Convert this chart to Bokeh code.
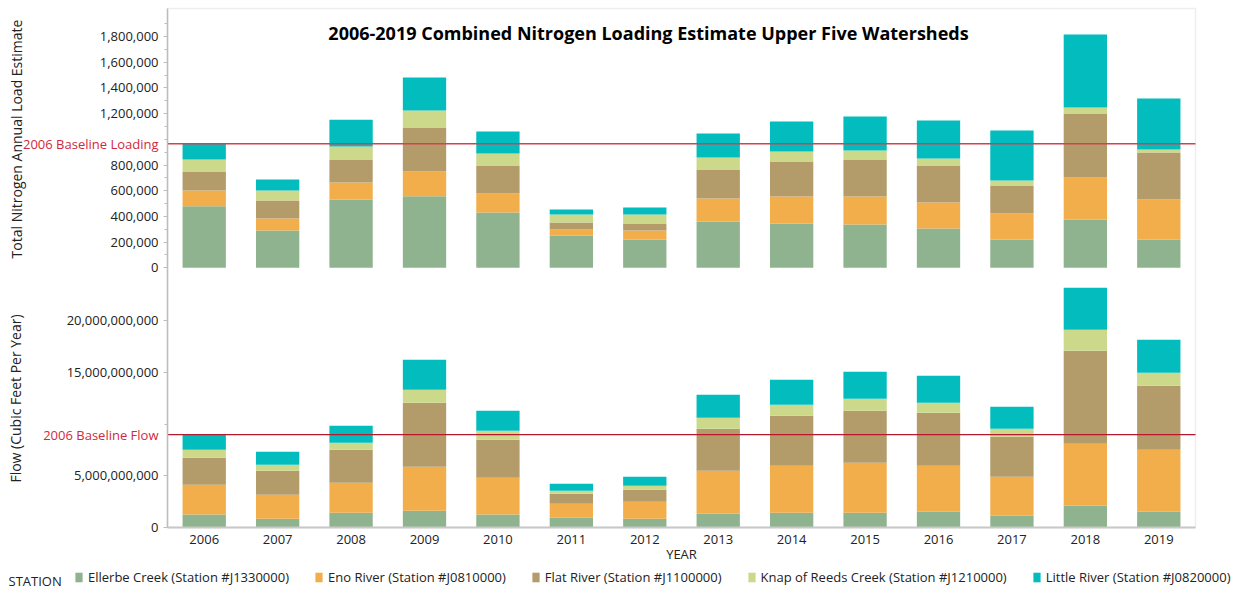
from bokeh.plotting import figure
from bokeh.models import (ColumnDataSource, Range1d, FixedTicker, Label, BoxAnnotation,
                          Legend, LegendItem, NumeralTickFormatter, LinearAxis)
from bokeh.embed import file_html
from bokeh.resources import INLINE

years = list(range(2006, 2020))
stations = ["Ellerbe Creek (Station #J1330000)", "Eno River (Station #J0810000)",
            "Flat River (Station #J1100000)", "Knap of Reeds Creek (Station #J1210000)",
            "Little River (Station #J0820000)"]
keys = ["ellerbe", "eno", "flat", "knap", "little"]
colors = ["#8FB38E", "#F2AE4A", "#B39B6A", "#CCD88A", "#03BCBE"]

# Total nitrogen annual load estimate per station
n_ellerbe = [479000, 290000, 531000, 557000, 430000, 251000, 220000, 360000, 345000, 337000, 306000, 220000, 376000, 220000]
n_eno     = [122000, 94000, 132000, 192000, 148000, 47000, 70000, 179000, 210000, 218000, 202000, 203000, 327000, 311000]
n_flat    = [148000, 140000, 179000, 343000, 218000, 55000, 55000, 226000, 272000, 288000, 288000, 217000, 498000, 366000]
n_knap    = [94000, 77000, 101000, 132000, 93000, 62000, 70000, 93000, 78000, 70000, 55000, 39000, 46000, 24000]
n_little  = [122000, 86000, 210000, 257000, 172000, 39000, 54000, 187000, 233000, 264000, 295000, 389000, 569000, 396000]

# Flow (cubic feet per year) per station
f_ellerbe = [1.26e9, 0.84e9, 1.42e9, 1.61e9, 1.26e9, 0.94e9, 0.84e9, 1.32e9, 1.42e9, 1.42e9, 1.52e9, 1.13e9, 2.10e9, 1.52e9]
f_eno     = [2.87e9, 2.32e9, 2.90e9, 4.26e9, 3.55e9, 1.35e9, 1.65e9, 4.16e9, 4.55e9, 4.84e9, 4.45e9, 3.77e9, 5.99e9, 5.99e9]
f_flat    = [2.61e9, 2.32e9, 3.19e9, 6.19e9, 3.67e9, 0.97e9, 1.16e9, 4.06e9, 4.83e9, 5.02e9, 5.12e9, 3.87e9, 9.00e9, 6.19e9]
f_knap    = [0.77e9, 0.58e9, 0.68e9, 1.25e9, 0.87e9, 0.29e9, 0.38e9, 1.07e9, 1.06e9, 1.17e9, 0.97e9, 0.77e9, 2.03e9, 1.26e9]
f_little  = [1.48e9, 1.26e9, 1.64e9, 2.91e9, 1.93e9, 0.68e9, 0.87e9, 2.22e9, 2.42e9, 2.61e9, 2.61e9, 2.13e9, 4.06e9, 3.19e9]

n_ticks = [0, 200000, 400000, 600000, 800000, 1200000, 1400000, 1600000, 1800000]
n_minor = [i * 100000 for i in range(0, 20)]
f_ticks = [0, 5e9, 15e9, 20e9]
f_minor = [10e9]

title_text = "2006-2019 Combined Nitrogen Loading Estimate Upper Five Watersheds"
baseline_loading = n_ellerbe[0] + n_eno[0] + n_flat[0] + n_knap[0] + n_little[0]
baseline_flow = f_ellerbe[0] + f_eno[0] + f_flat[0] + f_knap[0] + f_little[0]

FONT = "Open Sans"
TXT = "#222222"
GRAY = "#bdbdbd"
RED_TXT = "#d02a3c"

# ---- layout (pixels) ----
W, H = 1236, 591
PX_LEFT, PX_RIGHT = 167, 1195          # plot area left / right
PX_TOP, PX_MID, PX_BOT = 8, 269, 527   # top of nitrogen panel, panel split, flow zero line
N_ZERO = 267.3                          # nitrogen zero line
N_PER_PX = 1e6 / 128.5
F_PER_PX = 5e9 / 51.7
YEAR_PX = (PX_RIGHT - PX_LEFT) / len(years)
x0 = years[0] - 0.5
x1 = years[-1] + 0.5

x_range = Range1d(x0 - PX_LEFT / YEAR_PX, x0 + (W - PX_LEFT) / YEAR_PX)
f_range = Range1d(-(H - PX_BOT) * F_PER_PX, PX_BOT * F_PER_PX)
n_range = Range1d(-(H - N_ZERO) * N_PER_PX, N_ZERO * N_PER_PX)
n_bounds = (-(PX_MID - N_ZERO) * N_PER_PX, (N_ZERO - PX_TOP) * N_PER_PX)
f_bounds = (0, (PX_BOT - PX_MID) * F_PER_PX)

n_src = ColumnDataSource(dict(year=years, ellerbe=n_ellerbe, eno=n_eno, flat=n_flat, knap=n_knap, little=n_little))
f_src = ColumnDataSource(dict(year=years, ellerbe=f_ellerbe, eno=f_eno, flat=f_flat, knap=f_knap, little=f_little))

p = figure(width=W, height=H, x_range=x_range, y_range=f_range,
           output_backend="svg", toolbar_location=None, x_axis_location=None, y_axis_location=None,
           min_border_left=0, min_border_right=0, min_border_top=0, min_border_bottom=0)
p.extra_y_ranges = {"n": n_range}
p.outline_line_color = None
p.grid.visible = False

p.add_layout(BoxAnnotation(left=x0, right=x1, bottom=0, top=(PX_BOT - PX_TOP) * F_PER_PX,
                           fill_alpha=0, line_color="#c8c8c8", line_width=1.5, level="underlay"))

p.vbar_stack(keys, x="year", width=0.59, color=colors, line_color=None, source=n_src, y_range_name="n")
frs = p.vbar_stack(keys, x="year", width=0.59, color=colors, line_color=None, source=f_src)

p.segment(x0=[x0], x1=[x1], y0=[baseline_loading], y1=[baseline_loading], y_range_name="n",
          line_color="#d3414f", line_width=1.5)
p.segment(x0=[x0], x1=[x1], y0=[baseline_flow], y1=[baseline_flow],
          line_color="#b8182e", line_width=1.2)


def y_axis(range_name, ticks, minor, bounds, label, standoff):
    ax = LinearAxis(y_range_name=range_name, fixed_location=x0, bounds=bounds,
                    ticker=FixedTicker(ticks=ticks, minor_ticks=minor),
                    formatter=NumeralTickFormatter(format="0,0"))
    ax.axis_line_color = GRAY
    ax.axis_line_width = 1.5
    ax.major_tick_line_color = GRAY
    ax.minor_tick_line_color = GRAY
    ax.major_tick_out = 4
    ax.major_tick_in = 0
    ax.minor_tick_out = 3
    ax.minor_tick_in = 0
    ax.major_label_standoff = 5
    ax.major_label_text_font = FONT
    ax.major_label_text_font_size = "13px"
    ax.major_label_text_color = TXT
    ax.axis_label = label
    ax.axis_label_text_font = FONT
    ax.axis_label_text_font_size = "14px"
    ax.axis_label_text_font_style = "normal"
    ax.axis_label_text_color = TXT
    ax.axis_label_standoff = standoff
    p.add_layout(ax, "left")


def base_axis(range_name, base, text):
    ax = LinearAxis(y_range_name=range_name, fixed_location=x0,
                    ticker=FixedTicker(ticks=[base], minor_ticks=[]),
                    major_label_overrides={base: text})
    ax.axis_line_color = None
    ax.major_tick_line_color = None
    ax.minor_tick_line_color = None
    ax.major_tick_out = 0
    ax.major_tick_in = 0
    ax.major_label_standoff = 9
    ax.major_label_text_font = FONT
    ax.major_label_text_font_size = "13px"
    ax.major_label_text_color = RED_TXT
    p.add_layout(ax, "left")


y_axis("n", n_ticks, n_minor, n_bounds, "Total Nitrogen Annual Load Estimate", 71)
y_axis("default", f_ticks, f_minor, f_bounds, "Flow (Cubic Feet Per Year)", 39)
base_axis("n", baseline_loading, "2006 Baseline Loading")
base_axis("default", baseline_flow, "2006 Baseline Flow")

xa = LinearAxis(fixed_location=0, bounds=(x0, x1), ticker=FixedTicker(ticks=years, minor_ticks=[]))
xa.axis_line_color = "#c8c8c8"
xa.axis_line_width = 2
xa.major_tick_out = 0
xa.major_tick_in = 0
xa.major_tick_line_color = None
xa.minor_tick_line_color = None
xa.major_label_standoff = 7
xa.major_label_text_font = FONT
xa.major_label_text_font_size = "13px"
xa.major_label_text_color = TXT
xa.axis_label = "YEAR"
xa.axis_label_text_font = FONT
xa.axis_label_text_font_size = "13px"
xa.axis_label_text_font_style = "normal"
xa.axis_label_text_color = TXT
xa.axis_label_standoff = -2
p.add_layout(xa, "below")

p.add_layout(Label(x=648, y=H - 32, x_units="screen", y_units="screen", text=title_text,
                   text_align="center", text_baseline="middle", text_font=FONT, text_font_size="18px",
                   text_font_style="bold", text_color="#000000"))

p.add_layout(Label(x=8, y=H - 580, x_units="screen", y_units="screen", text="STATION",
                   text_align="left", text_baseline="middle", text_font=FONT, text_font_size="13px",
                   text_color=TXT))

legend = Legend(items=[LegendItem(label=st, renderers=[r]) for st, r in zip(stations, frs)],
                location=(74, 5), orientation="horizontal", border_line_color=None,
                background_fill_alpha=0, padding=0, spacing=25, margin=0,
                label_text_font=FONT, label_text_font_size="13px", label_text_color=TXT,
                label_standoff=5, glyph_width=9, glyph_height=12, label_height=16)
p.add_layout(legend)

open("out.html", "w").write(file_html(p, INLINE))
